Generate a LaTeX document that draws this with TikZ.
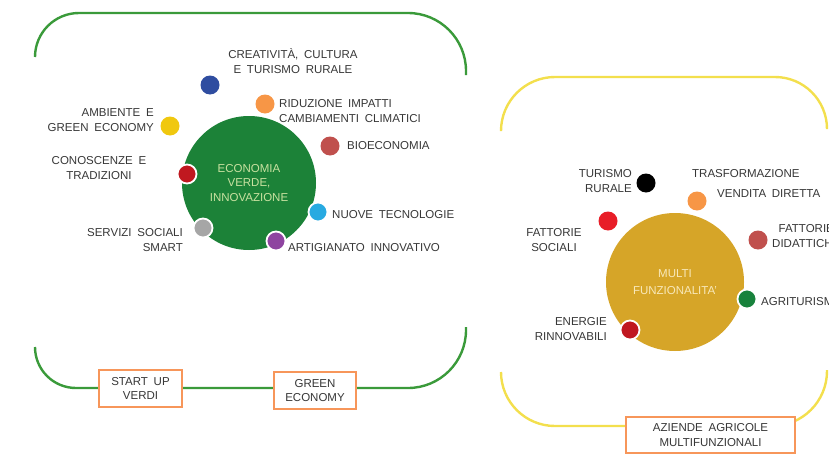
\documentclass[tikz,border=0pt]{standalone}
\usepackage{fontspec}
\setmainfont{Liberation Sans}[WordSpace=1.8]
\usepackage{xcolor}
\usepackage{tikz}

\definecolor{frameGreen}{RGB}{58,154,58}
\definecolor{frameYellow}{RGB}{243,223,77}
\definecolor{bigGreen}{RGB}{28,130,56}
\definecolor{bigGold}{RGB}{214,165,40}
\definecolor{tagOrange}{RGB}{247,150,90}
\definecolor{txtGray}{RGB}{55,55,55}
\definecolor{paleGreen}{RGB}{200,225,160}
\definecolor{paleGold}{RGB}{248,232,185}
\definecolor{dotBlue}{RGB}{47,77,160}
\definecolor{dotOrange}{RGB}{247,150,70}
\definecolor{dotYellow}{RGB}{240,200,15}
\definecolor{dotBrown}{RGB}{192,80,77}
\definecolor{dotRed}{RGB}{192,24,32}
\definecolor{dotCyan}{RGB}{40,170,225}
\definecolor{dotGray}{RGB}{166,166,166}
\definecolor{dotPurple}{RGB}{142,68,160}
\definecolor{dotBright}{RGB}{232,30,40}
\definecolor{dotGreen}{RGB}{24,130,60}

\begin{document}
\begin{tikzpicture}[x=1pt,y=-1pt,
	lbl/.style={inner sep=0pt, text=txtGray, font=\fontsize{11.5}{14.5}\selectfont},
	dot/.style={circle, inner sep=0pt, minimum size=19pt},
	ring/.style={dot, draw=white, line width=1.8pt},
	tag/.style={lbl, draw=tagOrange, line width=1.8pt, fill=white, align=center},
	hub/.style={circle, inner sep=0pt, align=center, font=\fontsize{11.5}{14.5}\selectfont}]
	\useasboundingbox (0,0) rectangle (829,455);
	\clip (0,0) rectangle (829,455);

	% left frame
	\draw[frameGreen, line width=2.4pt] (35,57) [rounded corners=44pt] -- (35,13) [rounded corners=58pt] -- (466,13) -- (466,75);
	\draw[frameGreen, line width=2.4pt] (35,347) [rounded corners=41pt] -- (35,388) [rounded corners=58pt] -- (466,388) -- (466,327);
	% right frame
	\draw[frameYellow, line width=2.4pt] (501,130) [rounded corners=54pt] -- (501,77) [rounded corners=52pt] -- (827,77) -- (827,127);
	\draw[frameYellow, line width=2.4pt] (501,372) [rounded corners=54pt] -- (501,426) [rounded corners=55pt] -- (827,426) -- (827,370);

	\node[tag, minimum width=83pt, minimum height=37pt] (startup) at (140.5,388.5) {START UP\\VERDI};
	\node[tag, minimum width=82pt, minimum height=37pt] (greeneco) at (315,390.5) {GREEN\\ECONOMY};
	\node[tag, minimum width=169pt, minimum height=36pt] (aziende) at (710.5,435) {AZIENDE AGRICOLE\\MULTIFUNZIONALI};

	% hubs
	\node[hub, fill=bigGreen, minimum size=134pt, text=paleGreen] (verde) at (249,183) {ECONOMIA\\VERDE,\\INNOVAZIONE};
	\node[hub, fill=bigGold, minimum size=138pt, text=paleGold] (multi) at (675,282) {MULTI\\[2pt]FUNZIONALITA'};

	% dots
	\foreach \n/\x/\y/\c in {dCrea/210/85/dotBlue, dRidu/265/104/dotOrange, dAmbi/170/126/dotYellow,
		dBioe/330/146/dotBrown, dTuri/646/183/black, dTras/697/201/dotOrange,
		dFsoc/608/221/dotBright, dFdid/758/240/dotBrown}
		\node[dot, fill=\c] (\n) at (\x,\y) {};
	\foreach \n/\x/\y/\c in {dCono/187/174/dotRed, dNuov/318/212/dotCyan, dServ/203/228/dotGray,
		dArti/276/241/dotPurple, dAgri/747/299/dotGreen, dEner/630/330/dotRed}
		\node[ring, fill=\c] (\n) at (\x,\y) {};

	% labels, left
	\node[lbl, align=center] (lCrea) at (293,61) {CREATIVITÀ, CULTURA\\E TURISMO RURALE};
	\node[lbl, align=left, anchor=west] (lRidu) at (279,111) {RIDUZIONE IMPATTI\\CAMBIAMENTI CLIMATICI};
	\node[lbl, align=right, anchor=east] (lAmbi) at (154,120) {AMBIENTE E\\GREEN ECONOMY};
	\node[lbl, anchor=west] (lBioe) at (347,146) {BIOECONOMIA};
	\node[lbl, align=center] (lCono) at (99,168) {CONOSCENZE E\\TRADIZIONI};
	\node[lbl, anchor=west] (lNuov) at (332,215) {NUOVE TECNOLOGIE};
	\node[lbl, align=right, anchor=east] (lServ) at (183,240) {SERVIZI SOCIALI\\SMART};
	\node[lbl, anchor=west] (lArti) at (288,248) {ARTIGIANATO INNOVATIVO};

	% labels, right
	\node[lbl, align=right, anchor=east] (lTuri) at (632,181) {TURISMO\\RURALE};
	\node[lbl, anchor=west] (lTras) at (692,174) {TRASFORMAZIONE};
	\node[lbl, anchor=west] (lVend) at (717,194) {VENDITA DIRETTA};
	\node[lbl, align=center] (lFsoc) at (554,240) {FATTORIE\\SOCIALI};
	\node[lbl, align=center, anchor=west] (lFdid) at (772,236) {FATTORIE\\DIDATTICHE};
	\node[lbl, anchor=west] (lAgri) at (761,302) {AGRITURISMO};
	\node[lbl, align=right, anchor=east] (lEner) at (607,329) {ENERGIE\\RINNOVABILI};
\end{tikzpicture}
\end{document}
